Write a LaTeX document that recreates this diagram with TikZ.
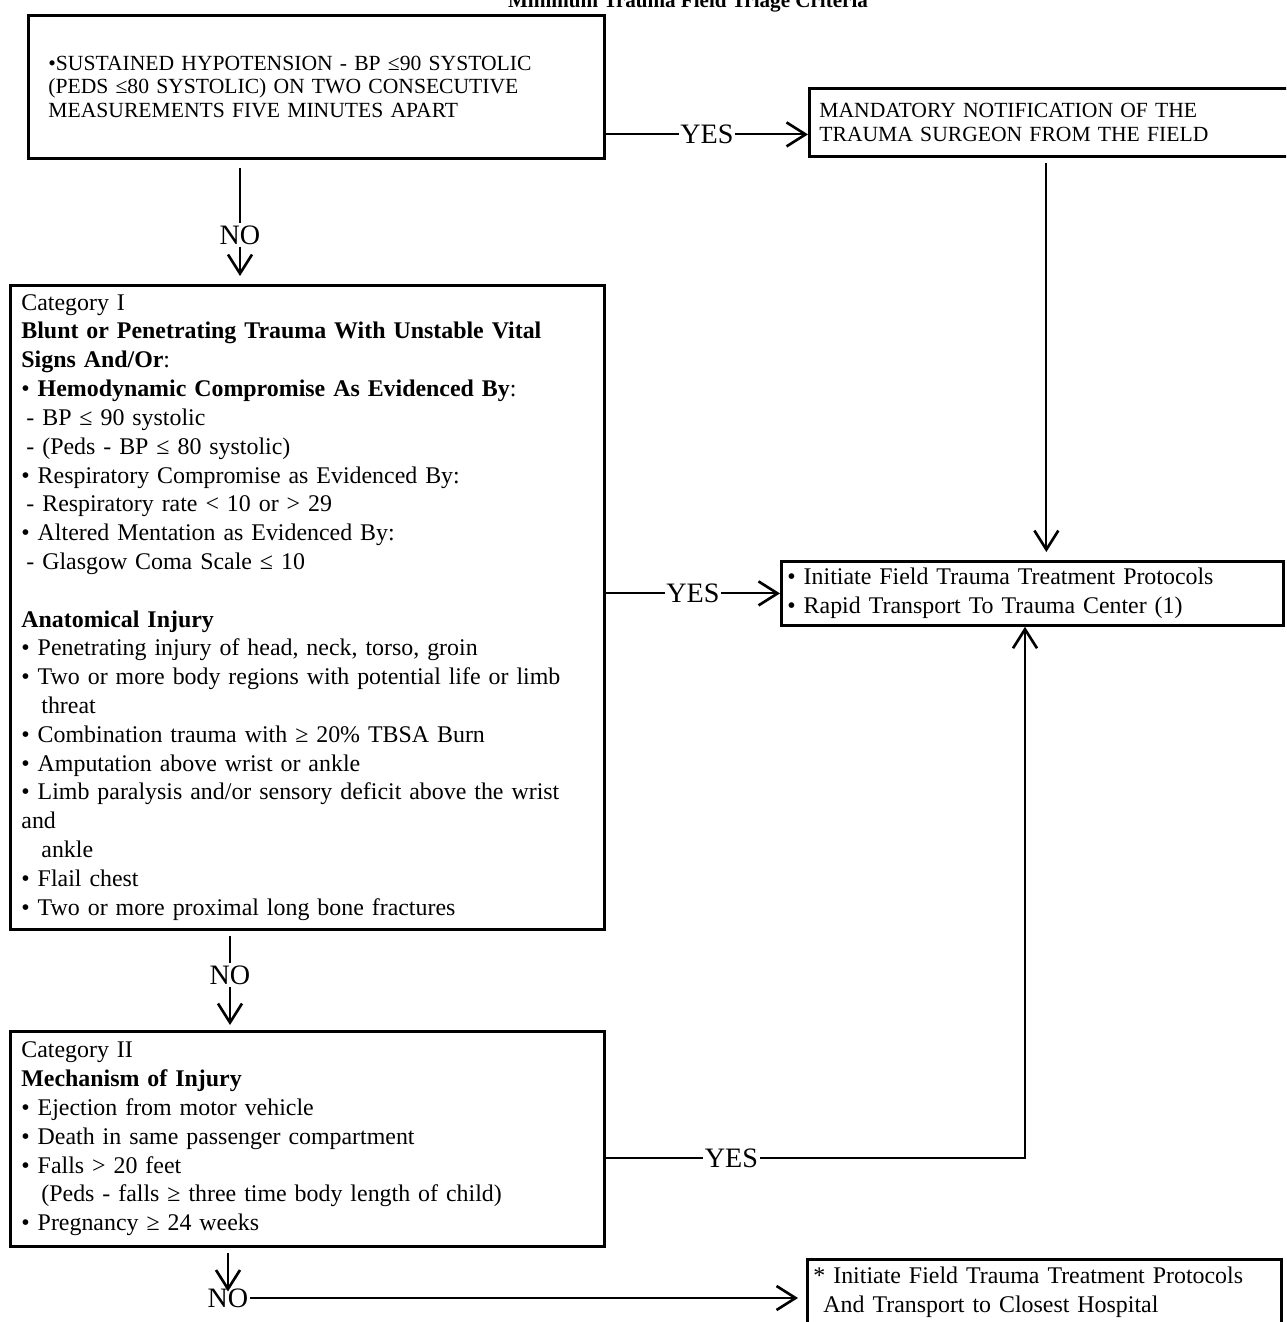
\documentclass[tikz,border=0pt]{standalone}
\usepackage{fontspec}
\setmainfont{Liberation Serif}
\usetikzlibrary{arrows.meta,calc}

\begin{document}
\begin{tikzpicture}[
    x=0.02cm, y=-0.02cm, % one unit = one pixel of the scan
    >={Straight Barb[length=3.8mm,width=4.8mm,line width=1.5pt]}, % open V tips
    critbox/.style={draw, line width=1.6pt, anchor=north west, align=left, inner ysep=0pt},
    capsfont/.style={font=\fontsize{12.3}{13.6}\selectfont},
    bodyfont/.style={font=\fontsize{13.6}{16.4}\selectfont},
    answer/.style={fill=white, inner sep=1pt, font=\fontsize{16}{18}\selectfont},
    link/.style={line width=1.2pt}
]

    \useasboundingbox (0,0) rectangle (1286,1322);
    \clip (0,0) rectangle (1286,1322);

    % Title (cut off by the top edge)
    \node[anchor=base, font=\bfseries\fontsize{12}{14}\selectfont] (title) at (688,7)
        {Minimum Trauma Field Triage Criteria};

    % Boxes
    \node[critbox, capsfont, inner xsep=0.4cm, text width=10.72cm, minimum height=2.86cm] (hypo) at (27,14)
        {•SUSTAINED HYPOTENSION - BP ≤90 SYSTOLIC\\
         (PEDS ≤80 SYSTOLIC) ON TWO CONSECUTIVE\\
         MEASUREMENTS FIVE MINUTES APART};

    \node[critbox, capsfont, inner xsep=0.2cm, text width=9.28cm, minimum height=1.36cm] (notify) at (808,87)
        {MANDATORY NOTIFICATION OF THE\\
         TRAUMA SURGEON FROM THE FIELD};

    \node[critbox, bodyfont, inner xsep=0.22cm, text width=11.44cm, minimum height=12.88cm] (cat1) at (9,284)
        {Category I\\
         \textbf{Blunt or Penetrating Trauma With Unstable Vital}\\
         \textbf{Signs And/Or}:\\
         • \textbf{Hemodynamic Compromise As Evidenced By}:\\
         \hspace*{0.1cm}- BP ≤ 90 systolic\\
         \hspace*{0.1cm}- (Peds - BP ≤ 80 systolic)\\
         • Respiratory Compromise as Evidenced By:\\
         \hspace*{0.1cm}- Respiratory rate < 10 or > 29\\
         • Altered Mentation as Evidenced By:\\
         \hspace*{0.1cm}- Glasgow Coma Scale ≤ 10\\
         ~\\
         \textbf{Anatomical Injury}\\
         • Penetrating injury of head, neck, torso, groin\\
         • Two or more body regions with potential life or limb\\
         \hspace*{0.4cm}threat\\
         • Combination trauma with ≥ 20\% TBSA Burn\\
         • Amputation above wrist or ankle\\
         • Limb paralysis and/or sensory deficit above the wrist\\
         and\\
         \hspace*{0.4cm}ankle\\
         • Flail chest\\
         • Two or more proximal long bone fractures};

    \node[critbox, bodyfont, inner xsep=0.12cm, text width=9.8cm, minimum height=1.28cm] (treat) at (780,560)
        {• Initiate Field Trauma Treatment Protocols\\
         • Rapid Transport To Trauma Center (1)};

    \node[critbox, bodyfont, inner xsep=0.22cm, text width=11.44cm, minimum height=4.3cm] (cat2) at (9,1030)
        {Category II\\
         \textbf{Mechanism of Injury}\\
         • Ejection from motor vehicle\\
         • Death in same passenger compartment\\
         • Falls > 20 feet\\
         \hspace*{0.4cm}(Peds - falls ≥ three time body length of child)\\
         • Pregnancy ≥ 24 weeks};

    \node[critbox, bodyfont, inner xsep=0.12cm, text width=9.24cm, minimum height=1.32cm] (closest) at (806,1258)
        {* Initiate Field Trauma Treatment Protocols\\
         \hspace*{0.2cm}And Transport to Closest Hospital};

    % NO labels
    \node[answer] (no1) at (240,235) {NO};
    \node[answer] (no2) at (230,975) {NO};
    \node[answer] (no3) at (228,1298) {NO};
    \coordinate (yes1) at ($(notify.west)+(0,12)$);
    \coordinate (turn) at (1025,1158);

    % Connectors
    \draw[link, ->] (hypo.east |- yes1) -- node[answer] {YES} (yes1);
    \draw[link, shorten <=0.16cm] (hypo.south -| no1) -- (no1);
    \draw[link, ->, shorten >=0.16cm] (no1) -- (cat1.north -| no1);
    \draw[link, ->, shorten <=0.1cm, shorten >=0.16cm] ([xshift=-0.1cm]notify.south) -- ([xshift=-0.1cm]notify.south |- treat.north);
    \draw[link, ->] (cat1.east |- treat.west) -- node[answer] {YES} (treat.west);
    \draw[link, shorten <=0.1cm] (cat1.south -| no2) -- (no2);
    \draw[link, ->, shorten >=0.1cm] (no2) -- (cat2.north -| no2);
    \draw[link, ->] (cat2.east |- turn) -- node[answer, pos=0.3] {YES} (turn) -- (treat.south -| turn);
    \draw[link, ->, shorten <=0.1cm] (cat2.south -| no3) -- ([yshift=-0.1cm]no3.north);
    \draw[link, ->, shorten >=0.16cm] (no3.east) -- (closest.west |- no3);

\end{tikzpicture}
\end{document}
